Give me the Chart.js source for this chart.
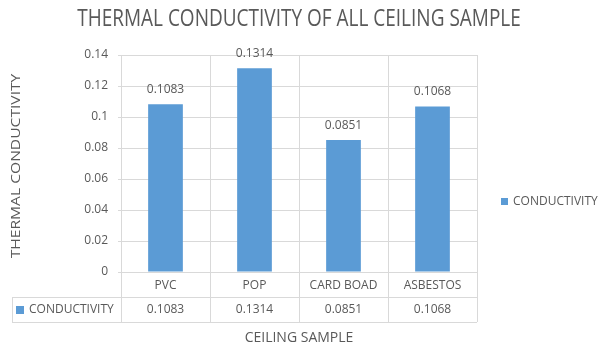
<!DOCTYPE html>
<html>
<head>
<meta charset="utf-8">
<script src="https://cdn.jsdelivr.net/npm/chart.js@4/dist/chart.umd.min.js"></script>
<style>
  html, body { margin: 0; padding: 0; background: #ffffff; }
  #wrap { width: 600px; height: 346px; position: relative; }
</style>
</head>
<body>
<div id="wrap"><canvas id="chart" width="600" height="346"></canvas></div>
<script>
// Ceiling samples and their measured thermal conductivity
const categories = ['PVC', 'POP', 'CARD BOAD', 'ASBESTOS'];
const conductivity = [0.1083, 0.1314, 0.0851, 0.1068];
const seriesName = 'CONDUCTIVITY';

// Value axis range and tick step
const yMin = 0;
const yMax = 0.14;
const yStep = 0.02;

const chartTitle = 'THERMAL CONDUCTIVITY OF ALL CEILING SAMPLE';
const yTitle = 'THERMAL CONDUCTIVITY';
const xTitle = 'CEILING SAMPLE';

const TEXT = '#595959';
const GRID = '#d9d9d9';
const BAR = '#5b9bd5';
const FONT = "'Open Sans', sans-serif";

// Tall, slightly condensed text (title and value-axis title)
function tallText(ctx, text, x, y, size, angle, stretch) {
  ctx.save();
  ctx.translate(x, y);
  ctx.rotate(angle);
  ctx.scale(stretch[0], stretch[1]);
  ctx.font = size + 'px ' + FONT;
  ctx.fillStyle = TEXT;
  ctx.textAlign = 'center';
  ctx.textBaseline = 'middle';
  ctx.fillText(text, 0, 0);
  ctx.restore();
}

// Titles, value labels above the bars, the data table under the axis and the side legend
const extras = {
  id: 'extras',
  afterDatasetsDraw(chart) {
    const ctx = chart.ctx;
    const area = chart.chartArea;
    const x = chart.scales.x;
    const meta = chart.getDatasetMeta(0);
    const ds = chart.data.datasets[0];

    tallText(ctx, chartTitle, 299, 20, 19, 0, [1, 1.2]);
    tallText(ctx, yTitle, 16, 166, 13, -Math.PI / 2, [1.2, 1]);

    ctx.save();
    ctx.font = '12px ' + FONT;
    ctx.fillStyle = TEXT;
    ctx.textAlign = 'center';
    ctx.textBaseline = 'middle';
    meta.data.forEach((bar, i) => {
      ctx.fillText(String(ds.data[i]), bar.x, bar.y - 15);
    });

    // data table
    const rowH = 25;
    const top = area.bottom;
    const r1 = top + rowH;
    const r2 = r1 + rowH;
    const tableLeft = 12;
    const n = categories.length;
    const colW = (area.right - area.left) / n;

    ctx.strokeStyle = GRID;
    ctx.lineWidth = 1;
    ctx.beginPath();
    ctx.moveTo(tableLeft, r1 + 0.5); ctx.lineTo(area.right, r1 + 0.5);
    ctx.moveTo(tableLeft, r2 + 0.5); ctx.lineTo(area.right, r2 + 0.5);
    ctx.moveTo(tableLeft + 0.5, r1); ctx.lineTo(tableLeft + 0.5, r2);
    for (let i = 0; i <= n; i++) {
      const px = Math.round(area.left + i * colW) + 0.5;
      ctx.moveTo(px, top); ctx.lineTo(px, r2);
    }
    ctx.stroke();

    // values row
    ctx.fillStyle = TEXT;
    ds.data.forEach((v, i) => {
      ctx.fillText(String(v), x.getPixelForValue(i), r1 + rowH / 2);
    });

    // series key in the first column
    ctx.fillStyle = ds.backgroundColor;
    ctx.fillRect(16, r1 + 9, 8, 8);
    ctx.fillStyle = TEXT;
    ctx.textAlign = 'left';
    ctx.fillText(ds.label, 29, r1 + rowH / 2);

    // legend on the right
    const ly = 202;
    ctx.fillStyle = ds.backgroundColor;
    ctx.fillRect(501, ly - 4, 7, 7);
    ctx.fillStyle = TEXT;
    ctx.font = '12px ' + FONT;
    ctx.fillText(ds.label, 513, ly);
    ctx.restore();
  }
};

new Chart(document.getElementById('chart'), {
  type: 'bar',
  data: {
    labels: categories,
    datasets: [{
      label: seriesName,
      data: conductivity,
      backgroundColor: BAR,
      borderWidth: 0,
      categoryPercentage: 0.39,
      barPercentage: 1
    }]
  },
  options: {
    responsive: false,
    animation: false,
    devicePixelRatio: 1,
    layout: { padding: { left: 0, right: 123, top: 55, bottom: 0 } },
    plugins: {
      legend: { display: false },
      tooltip: { enabled: false },
      title: { display: false }
    },
    scales: {
      x: {
        grid: { color: GRID, drawTicks: false, offset: true },
        border: { color: GRID },
        ticks: { color: TEXT, font: { family: FONT, size: 12 }, padding: 6, maxRotation: 0, autoSkip: false },
        title: {
          display: true,
          text: xTitle,
          color: TEXT,
          font: { family: FONT, size: 14 },
          padding: { top: 0, bottom: 0 }
        },
        afterFit(scale) { scale.height = 74; }
      },
      y: {
        min: yMin,
        max: yMax,
        grid: { color: GRID, drawTicks: true, tickLength: 3 },
        border: { color: GRID },
        ticks: {
          stepSize: yStep,
          color: TEXT,
          font: { family: FONT, size: 12 },
          padding: 10,
          callback: (v) => String(Number(v.toFixed(2)))
        },
        afterFit(scale) { scale.width = 121; }
      }
    }
  },
  plugins: [extras]
});
</script>
</body>
</html>
